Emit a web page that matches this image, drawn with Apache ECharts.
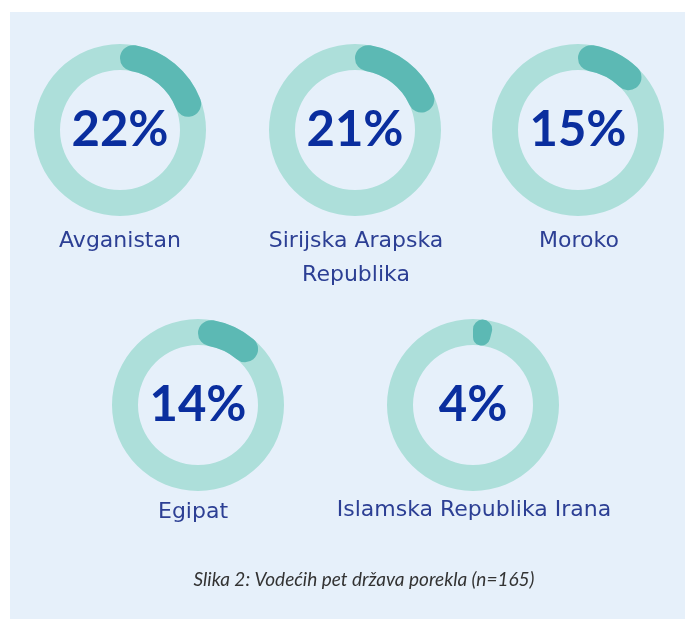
<!DOCTYPE html>
<html>
<head>
<meta charset="utf-8">
<script src="https://cdn.jsdelivr.net/npm/echarts@6/dist/echarts.min.js"></script>
<style>
  html, body { margin: 0; padding: 0; background: #fff; }
  #panel { position: absolute; left: 10px; top: 12px; width: 675px; height: 607px; background: #e6f0fa; }
  #chart { position: absolute; left: 0; top: 0; width: 685px; height: 619px; }
</style>
</head>
<body>
<div id="panel"></div>
<div id="chart"></div>
<script>
  // top five countries of origin, share of respondents (%)
  var countries = ['Avganistan', 'Sirijska Arapska\nRepublika', 'Moroko', 'Egipat', 'Islamska Republika Irana']
  var shares = [22, 21, 15, 14, 4]
  var caption = 'Slika 2: Vodećih pet država porekla (n=165)'

  // layout (px): donut centres and label anchors
  var centers = [[120, 130], [355, 130], [578, 130], [198, 405], [473, 405]]
  var labelPos = [[120, 224], [356, 224], [579, 224], [193, 495], [474, 493]]

  var chart = echarts.init(document.getElementById('chart'))

  var series = []
  shares.forEach(function (v, i) {
    // light track
    series.push({
      type: 'pie',
      silent: true,
      center: centers[i],
      radius: [60, 86],
      label: { show: false },
      labelLine: { show: false },
      itemStyle: { color: '#addfda' },
      data: [{ value: 100, name: 'track' }]
    })
    // share arc, rounded ends
    series.push({
      type: 'pie',
      silent: true,
      center: centers[i],
      radius: [60, 86],
      startAngle: 90,
      clockwise: true,
      labelLine: { show: false },
      label: {
        show: true,
        position: 'center',
        formatter: '{c}%',
        fontFamily: 'Lato',
        fontWeight: 'bold',
        fontSize: 49,
        color: '#0a2e9e'
      },
      data: [
        { value: v, name: countries[i], itemStyle: { color: '#5cb9b4', borderRadius: 13 } },
        { value: 100 - v, name: 'rest', itemStyle: { color: 'transparent' }, label: { show: false } }
      ]
    })
  })

  var titles = countries.map(function (name, i) {
    return {
      text: name,
      left: labelPos[i][0],
      top: labelPos[i][1],
      textAlign: 'center',
      padding: 0,
      textStyle: { fontFamily: 'DejaVu Sans', fontWeight: 'normal', fontSize: 22, lineHeight: 34, color: '#2c3f94' }
    }
  })
  titles.push({
    text: caption,
    left: 364,
    top: 570,
    textAlign: 'center',
    padding: 0,
    textStyle: { fontFamily: 'Lato', fontStyle: 'italic', fontWeight: 'normal', fontSize: 19, color: '#333' }
  })

  chart.setOption({
    animation: false,
    title: titles,
    series: series
  })
</script>
</body>
</html>
